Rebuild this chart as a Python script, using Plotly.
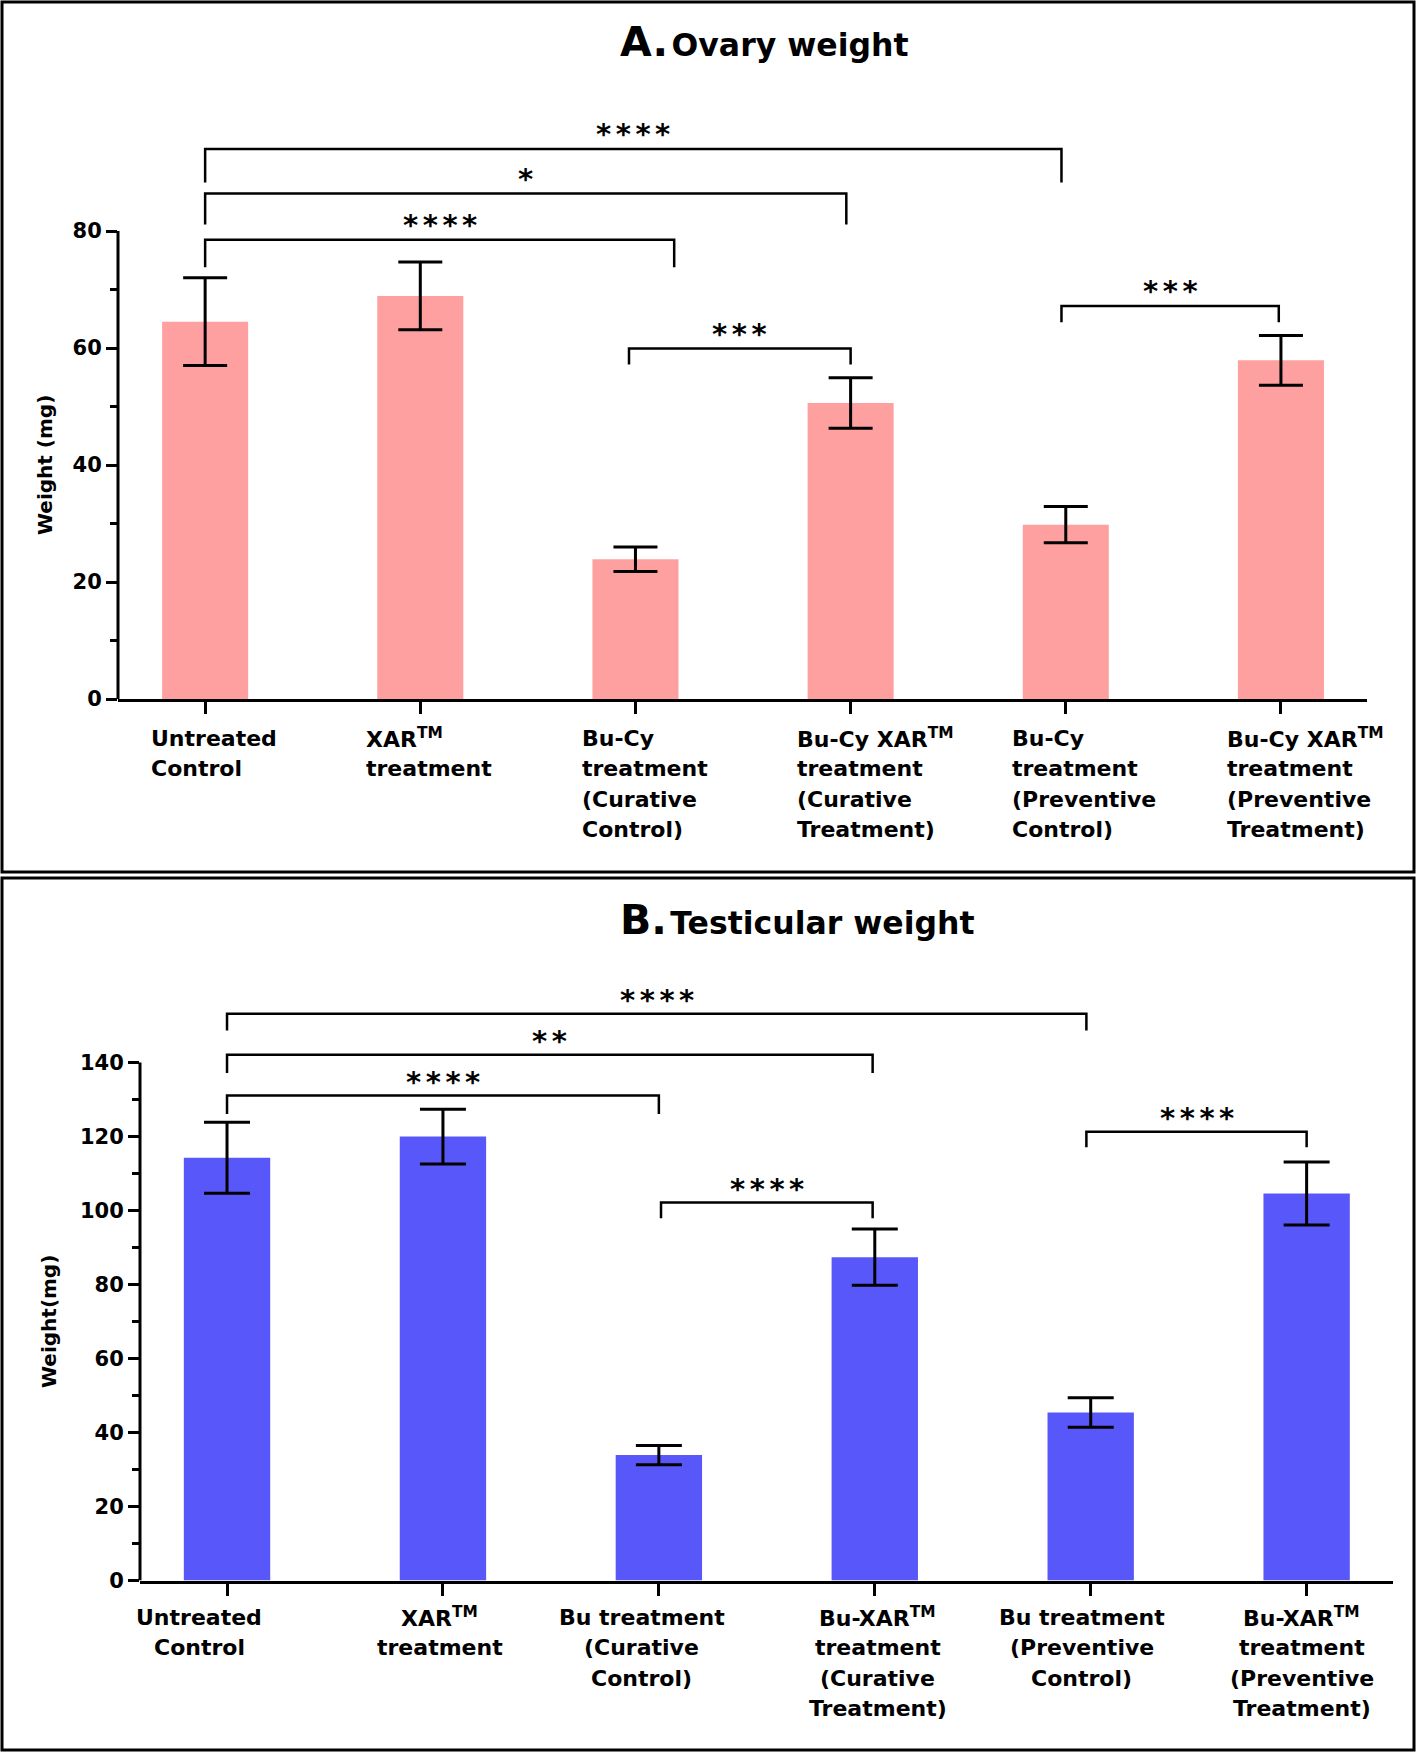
import plotly.graph_objects as go

W, H = 1416, 1754          # design canvas (target picture)
FIG_H = 1766               # figure height (compensates vertical squeeze seen in renders)
FONT = "DejaVu Sans, Arial, sans-serif"

# ---------------- data ----------------
labels_A = ["Untreated<br>Control",
            "XAR<sup>TM</sup><br>treatment",
            "Bu-Cy<br>treatment<br>(Curative<br>Control)",
            "Bu-Cy XAR<sup>TM</sup><br>treatment<br>(Curative<br>Treatment)",
            "Bu-Cy<br>treatment<br>(Preventive<br>Control)",
            "Bu-Cy XAR<sup>TM</sup><br>treatment<br>(Preventive<br>Treatment)"]
ovary_mean = [64.5, 68.9, 23.9, 50.6, 29.8, 57.9]
ovary_err = [7.5, 5.8, 2.1, 4.3, 3.1, 4.25]

labels_B = ["Untreated<br>Control",
            "XAR<sup>TM</sup><br>treatment",
            "Bu treatment<br>(Curative<br>Control)",
            "Bu-XAR<sup>TM</sup><br>treatment<br>(Curative<br>Treatment)",
            "Bu treatment<br>(Preventive<br>Control)",
            "Bu-XAR<sup>TM</sup><br>treatment<br>(Preventive<br>Treatment)"]
testis_mean = [114.3, 120.0, 33.9, 87.4, 45.4, 104.6]
testis_err = [9.6, 7.4, 2.6, 7.6, 4.0, 8.5]

yticks_A = [0, 20, 40, 60, 80]
yminor_A = [10, 30, 50, 70]
yticks_B = [0, 20, 40, 60, 80, 100, 120, 140]
yminor_B = [10, 30, 50, 70, 90, 110, 130]

# brackets: (x_left, x_right, y_line, y_leg_left, y_leg_right, stars)
brackets_A = [(0, 3.98, 94.0, 88.3, 88.3, "****"),
              (0, 2.98, 86.4, 81.1, 81.1, "*"),
              (0, 2.18, 78.5, 73.8, 73.8, "****"),
              (1.97, 3.0, 59.9, 57.2, 57.2, "***"),
              (3.98, 4.99, 67.2, 64.4, 64.4, "***")]
brackets_B = [(0, 3.98, 153.2, 148.7, 148.7, "****"),
              (0, 2.99, 142.1, 137.2, 137.2, "**"),
              (0, 2.0, 131.1, 126.1, 126.1, "****"),
              (2.01, 2.99, 102.2, 97.9, 97.9, "****"),
              (3.98, 5.0, 121.3, 117.1, 117.1, "****")]

xpos = list(range(6))


def py(px):
    return 1 - px / H


fig = go.Figure()
fig.add_trace(go.Bar(x=xpos, y=ovary_mean, width=0.40, marker_color="#FFA0A0",
                     marker_line_width=0, xaxis="x", yaxis="y",
                     error_y=dict(type="data", array=ovary_err, color="black",
                                  thickness=3, width=22)))
fig.add_trace(go.Bar(x=xpos, y=testis_mean, width=0.40, marker_color="#5858FA",
                     marker_line_width=0, xaxis="x2", yaxis="y2",
                     error_y=dict(type="data", array=testis_err, color="black",
                                  thickness=3, width=23)))

xcommon = dict(showgrid=False, zeroline=False, showline=True, linewidth=3,
               linecolor="black", ticks="outside", ticklen=12, tickwidth=3,
               tickcolor="black", tickvals=xpos, showticklabels=False)
ycommon = dict(showgrid=False, zeroline=False, showline=False, ticks="outside",
               ticklen=11, tickwidth=3, tickcolor="black",
               tickfont=dict(family=FONT, size=21, color="black", weight="bold"))

shapes = []
annotations = []

fig.update_layout(
    width=W, height=FIG_H, margin=dict(l=0, r=0, t=0, b=0), autosize=False,
    paper_bgcolor="white", plot_bgcolor="white", showlegend=False,
    xaxis=dict(domain=[118 / W, 1367 / W], range=[-0.405, 5.40], anchor="y", **xcommon),
    yaxis=dict(domain=[py(699), py(114)], range=[0, 100], anchor="x",
               tickvals=yticks_A,
               minor=dict(tickvals=yminor_A, ticks="outside", ticklen=7, tickwidth=3,
                          tickcolor="black"),
               **ycommon),
    xaxis2=dict(domain=[140 / W, 1393 / W], range=[-0.403, 5.40], anchor="y2", **xcommon),
    yaxis2=dict(domain=[py(1580.5), py(988.6)], range=[0, 160], anchor="x2",
                tickvals=yticks_B,
                minor=dict(tickvals=yminor_B, ticks="outside", ticklen=7, tickwidth=3,
                           tickcolor="black"),
                **ycommon),
)

# y axis lines only up to top tick
for xa, ya, top in [("x", "y", 80), ("x2", "y2", 140)]:
    shapes.append(dict(type="line", xref=f"{xa} domain", yref=ya, x0=0, x1=0,
                       y0=0, y1=top, line=dict(color="black", width=3)))

SP = "<span style='font-size:13px'> </span>"
# brackets
for xa, ya, brs, off in [("x", "y", brackets_A, 2.5), ("x2", "y2", brackets_B, 3.7)]:
    for x0, x1, yl, l0, l1, stars in brs:
        shapes.append(dict(type="path", xref=xa, yref=ya,
                           path=f"M {x0},{l0} L {x0},{yl} L {x1},{yl} L {x1},{l1}",
                           line=dict(color="black", width=2.5)))
        annotations.append(dict(xref=xa, yref=ya, x=(x0 + x1) / 2, y=yl + off,
                                text="<b>" + SP.join(stars) + "</b>", showarrow=False,
                                yanchor="middle", xanchor="center",
                                font=dict(family=FONT, size=29, color="black")))

# category labels, one annotation per line for controlled spacing
LINE = 30.6
for i, lab in enumerate(labels_A):
    for k, line in enumerate(lab.split("<br>")):
        annotations.append(dict(xref="x", yref="paper", x=xpos[i] - 0.26,
                                y=py(738 + k * LINE), text="<b>" + line + "</b>",
                                showarrow=False, align="left", xanchor="left",
                                yanchor="middle",
                                font=dict(family=FONT, size=22, color="black")))
b_shift = [-28, -3, -17, 3, -9, -5]
for i, lab in enumerate(labels_B):
    for k, line in enumerate(lab.split("<br>")):
        annotations.append(dict(xref="x2", yref="paper", x=xpos[i], xshift=b_shift[i],
                                y=py(1617 + k * LINE), text="<b>" + line + "</b>",
                                showarrow=False, align="center", xanchor="center",
                                yanchor="middle",
                                font=dict(family=FONT, size=22, color="black")))

# axis titles
annotations.append(dict(xref="paper", yref="paper", x=45 / W, y=py(465),
                        text="<b>Weight (mg)</b>", textangle=-90, showarrow=False,
                        xanchor="center", yanchor="middle",
                        font=dict(family=FONT, size=20, color="black")))
annotations.append(dict(xref="paper", yref="paper", x=49 / W, y=py(1322),
                        text="<b>Weight(mg)</b>", textangle=-90, showarrow=False,
                        xanchor="center", yanchor="middle",
                        font=dict(family=FONT, size=20, color="black")))

# panel titles
GAP = "<span style='font-size:10px'> </span>"
annotations.append(dict(xref="paper", yref="paper", x=764 / W, y=py(42),
                        text="<b><span style='font-size:41px'>A.</span>" + GAP + "Ovary weight</b>",
                        showarrow=False, xanchor="center", yanchor="middle",
                        font=dict(family=FONT, size=31.5, color="black")))
annotations.append(dict(xref="paper", yref="paper", x=797 / W, y=py(920),
                        text="<b><span style='font-size:41px'>B.</span>" + GAP + "Testicular weight</b>",
                        showarrow=False, xanchor="center", yanchor="middle",
                        font=dict(family=FONT, size=31.5, color="black")))

# panel borders
shapes.append(dict(type="rect", xref="paper", yref="paper", x0=2 / W, x1=1414 / W,
                   y0=py(872), y1=py(2), line=dict(color="black", width=3)))
shapes.append(dict(type="rect", xref="paper", yref="paper", x0=2 / W, x1=1414 / W,
                   y0=py(1750), y1=py(878), line=dict(color="black", width=3)))

fig.update_layout(shapes=shapes, annotations=annotations)

post = "document.body.style.margin='0px';"
fig.write_html("out.html", config={"displayModeBar": False}, post_script=post)
